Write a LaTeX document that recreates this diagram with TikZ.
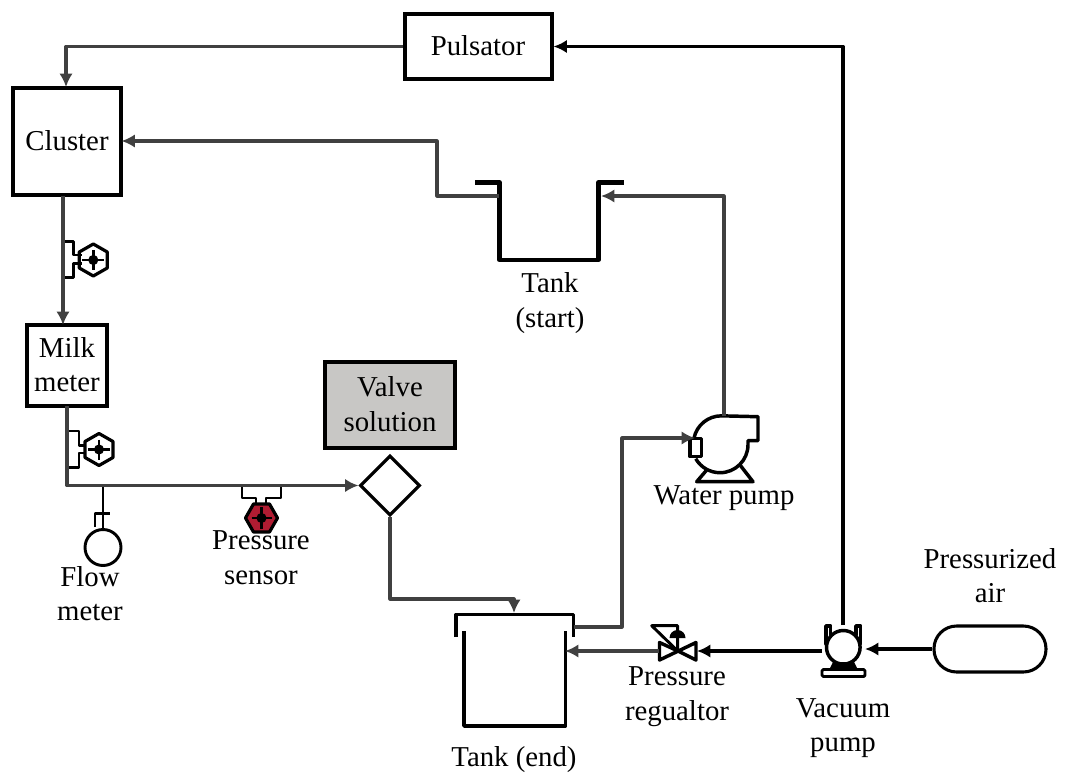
\documentclass[tikz,border=0pt]{standalone}
\usepackage{fontspec}
\setmainfont{Liberation Serif}
\usetikzlibrary{arrows.meta, positioning, shapes.geometric}
\definecolor{pipegray}{HTML}{404040}
\definecolor{sensorred}{HTML}{B01C32}
\definecolor{valvegray}{HTML}{C8C7C5}
\begin{document}
\begin{tikzpicture}[x=0.75pt, y=-0.75pt,
    every node/.style={font=\fontsize{21.6}{26}\selectfont, align=center},
    block/.style={draw=black, line width=2.3pt, inner sep=0pt},
    pipe/.style={draw=pipegray, line width=2.4pt, line join=round, -{Latex[length=10pt, width=10pt]}},
    airpipe/.style={draw=black, line width=2.4pt, line join=round, -{Latex[length=10pt, width=10pt]}},
    sym/.style={draw=black, line width=2.2pt, line join=round},
    tankwall/.style={draw=black, line width=2.6pt, line join=round},
    sensorhex/.pic={
        \draw[line width=2.4pt, line join=round, pic actions] (0,-16) -- (14,-8) -- (14,8) -- (0,16) -- (-14,8) -- (-14,-8) -- cycle;
        \draw[line width=2.2pt, black] (-11,0) -- (11,0) (0,-10) -- (0,10);
        \fill[black] (0,0) circle[radius=3.8pt];
    },
]
    \useasboundingbox (0,0) rectangle (1065,775);

    % Boxes
    \node[block, minimum width=110.25pt, minimum height=48.75pt] (pulsator) at (478.5,46.5) {};
    \node (pulsatorlbl) at (478,46) {Pulsator};
    \node[block, minimum width=81pt, minimum height=80.25pt] (cluster) at (67,141.5) {};
    \node (clusterlbl) at (67,140.5) {Cluster};
    \node[block, minimum width=60pt, minimum height=60.75pt] (milk) at (67,365.5) {};
    \node (milklbl) at (67,364.5) {Milk\\meter};
    \node[block, fill=valvegray, minimum width=97.5pt, minimum height=64.5pt] (valvesol) at (390,405) {};
    \node (valvelbl) at (390,404) {Valve\\solution};
    \node[block, diamond, minimum width=45pt, minimum height=45pt] (mixer) at (390,485.5) {};
    \node[block, rounded corners=17pt, minimum width=84pt, minimum height=34.5pt] (air) at (990,649) {};

    % Tank (start)
    \draw[tankwall, line width=3.2pt] (475,182.5) -- (499.5,182.5) -- (499.5,260) -- (598.5,260) -- (598.5,182.5) -- (623.5,182.5);
    \coordinate (startin) at (601,196);
    \coordinate (startout) at (499,196);

    % Tank (end)
    \draw[tankwall] (456,637) -- (456,614.5) -- (573.5,614.5) -- (573.5,637);
    \draw[tankwall] (464,631) -- (464,726) -- (565.5,726) -- (565.5,631);
    \coordinate (endtop) at (514,613);
    \coordinate (endout) at (574,627);
    \coordinate (endin) at (565,651);

    % Water pump
    \draw[sym, line width=2.6pt] (694,438) arc[start angle=168, end angle=90, radius=21pt] -- (758,416.7) -- (758,440.7) -- (748,440.7) -- (748,444.7) arc[start angle=0, end angle=-150, radius=21pt];
    \draw[sym, line width=2.6pt] (690,438.3) rectangle (701.7,456.7);
    \draw[sym, line width=2.6pt] (706.7,470) -- (696.7,481.7) -- (753,481.7) -- (740,465);
    \coordinate (pumptop) at (724,416);
    \coordinate (pumpin) at (695,438);

    % Pressure regulator
    \draw[sym, line width=2.6pt] (678,651) -- (659.5,642.5) -- (659.5,660) -- (696,642.5) -- (696,660) -- cycle;
    \draw[sym] (651.7,625.7) -- (677.7,625.7) -- (677.7,651) -- cycle;
    \fill[black] (669.5,638) arc[start angle=180, end angle=0, radius=6pt] -- cycle;
    \coordinate (regleft) at (659,651);
    \coordinate (regright) at (697,651);

    % Vacuum pump
    \draw[sym, line width=2.6pt] (843.3,647.3) circle[radius=12.6pt];
    \draw[sym, line cap=round, line width=2.6pt] (826,644) -- (826,626) -- (830.7,626) -- (830.7,635);
    \draw[sym, line cap=round, line width=2.6pt] (856,635) -- (856,626) -- (860.7,626) -- (860.7,644);
    \fill[black] (833,662) -- (854,662) -- (858,670) -- (829,670) -- cycle;
    \draw[sym, rounded corners=1pt] (822,669.5) rectangle (865,676.5);
    \coordinate (vactop) at (843,625);
    \coordinate (vacleft) at (822,651);
    \coordinate (vacright) at (865,649);

    % Sensors
    \draw[sym] (63,241.7) -- (73.3,241.7) -- (73.3,255) -- (82,255) (63,277.3) -- (73.3,277.3) -- (73.3,263.3) -- (82,263.3);
    \pic at (93.3,260) {sensorhex};
    \draw[sym] (67,431) -- (79,431) -- (79,445.7) -- (85,445.7) (67,467.7) -- (79,467.7) -- (79,453) -- (85,453);
    \pic at (99,449.5) {sensorhex};
    \draw[sym] (242,487) -- (242,498) -- (256,498) -- (256,505) (281,487) -- (281,498) -- (266,498) -- (266,505);
    \pic[rotate=90, fill=sensorred] at (261.5,518) {sensorhex};

    % Flow meter
    \draw[sym] (103,547.5) circle[radius=13.5pt];
    \coordinate (flowtop) at (103,530);
    \coordinate (flowjoin) at (103,487);
    \draw[sym] (flowjoin) -- (flowtop);
    \draw[sym] (95,527) -- (95,513.5) -- (109.5,513.5);

    % Connectors
    \draw[pipe] (pulsator.west) -- (66,46.5) -- (66,87);
    \draw[airpipe] (vactop) -- (843,46.5) -- (pulsator.east);
    \draw[pipe] (startout) -- (437,196) -- (437,141) -- (121.5,141);
    \draw[pipe] (pumptop) -- (724,196) -- (startin);
    \draw[pipe] (63,196) -- (63,325);
    \draw[pipe] (67,406) -- (67,485.5) -- (mixer.west);
    \draw[pipe] (mixer.south) -- (390,599) -- (514,599) -- (endtop);
    \draw[pipe] (endout) -- (622,627) -- (622,438) -- (pumpin);
    \draw[pipe] (regleft) -- (endin);
    \draw[airpipe] (vacleft) -- (regright);
    \draw[airpipe] (air.west) -- (vacright);

    % Labels
    \node (tankstartlbl) at (550,303) {Tank\\(start)};
    \node (pumplbl) at (724,498) {Water pump};
    \node (flowlbl) at (90,593.5) {Flow\\meter};
    \node (sensorlbl) at (261,557.5) {Pressure\\sensor};
    \node (airlbl) at (990,575.5) {Pressurized\\air};
    \node (reglbl) at (677,697) {Pressure\\regualtor};
    \node (vaclbl) at (843,728) {Vacuum\\pump};
    \node (tankendlbl) at (514,760) {Tank (end)};
\end{tikzpicture}
\end{document}
